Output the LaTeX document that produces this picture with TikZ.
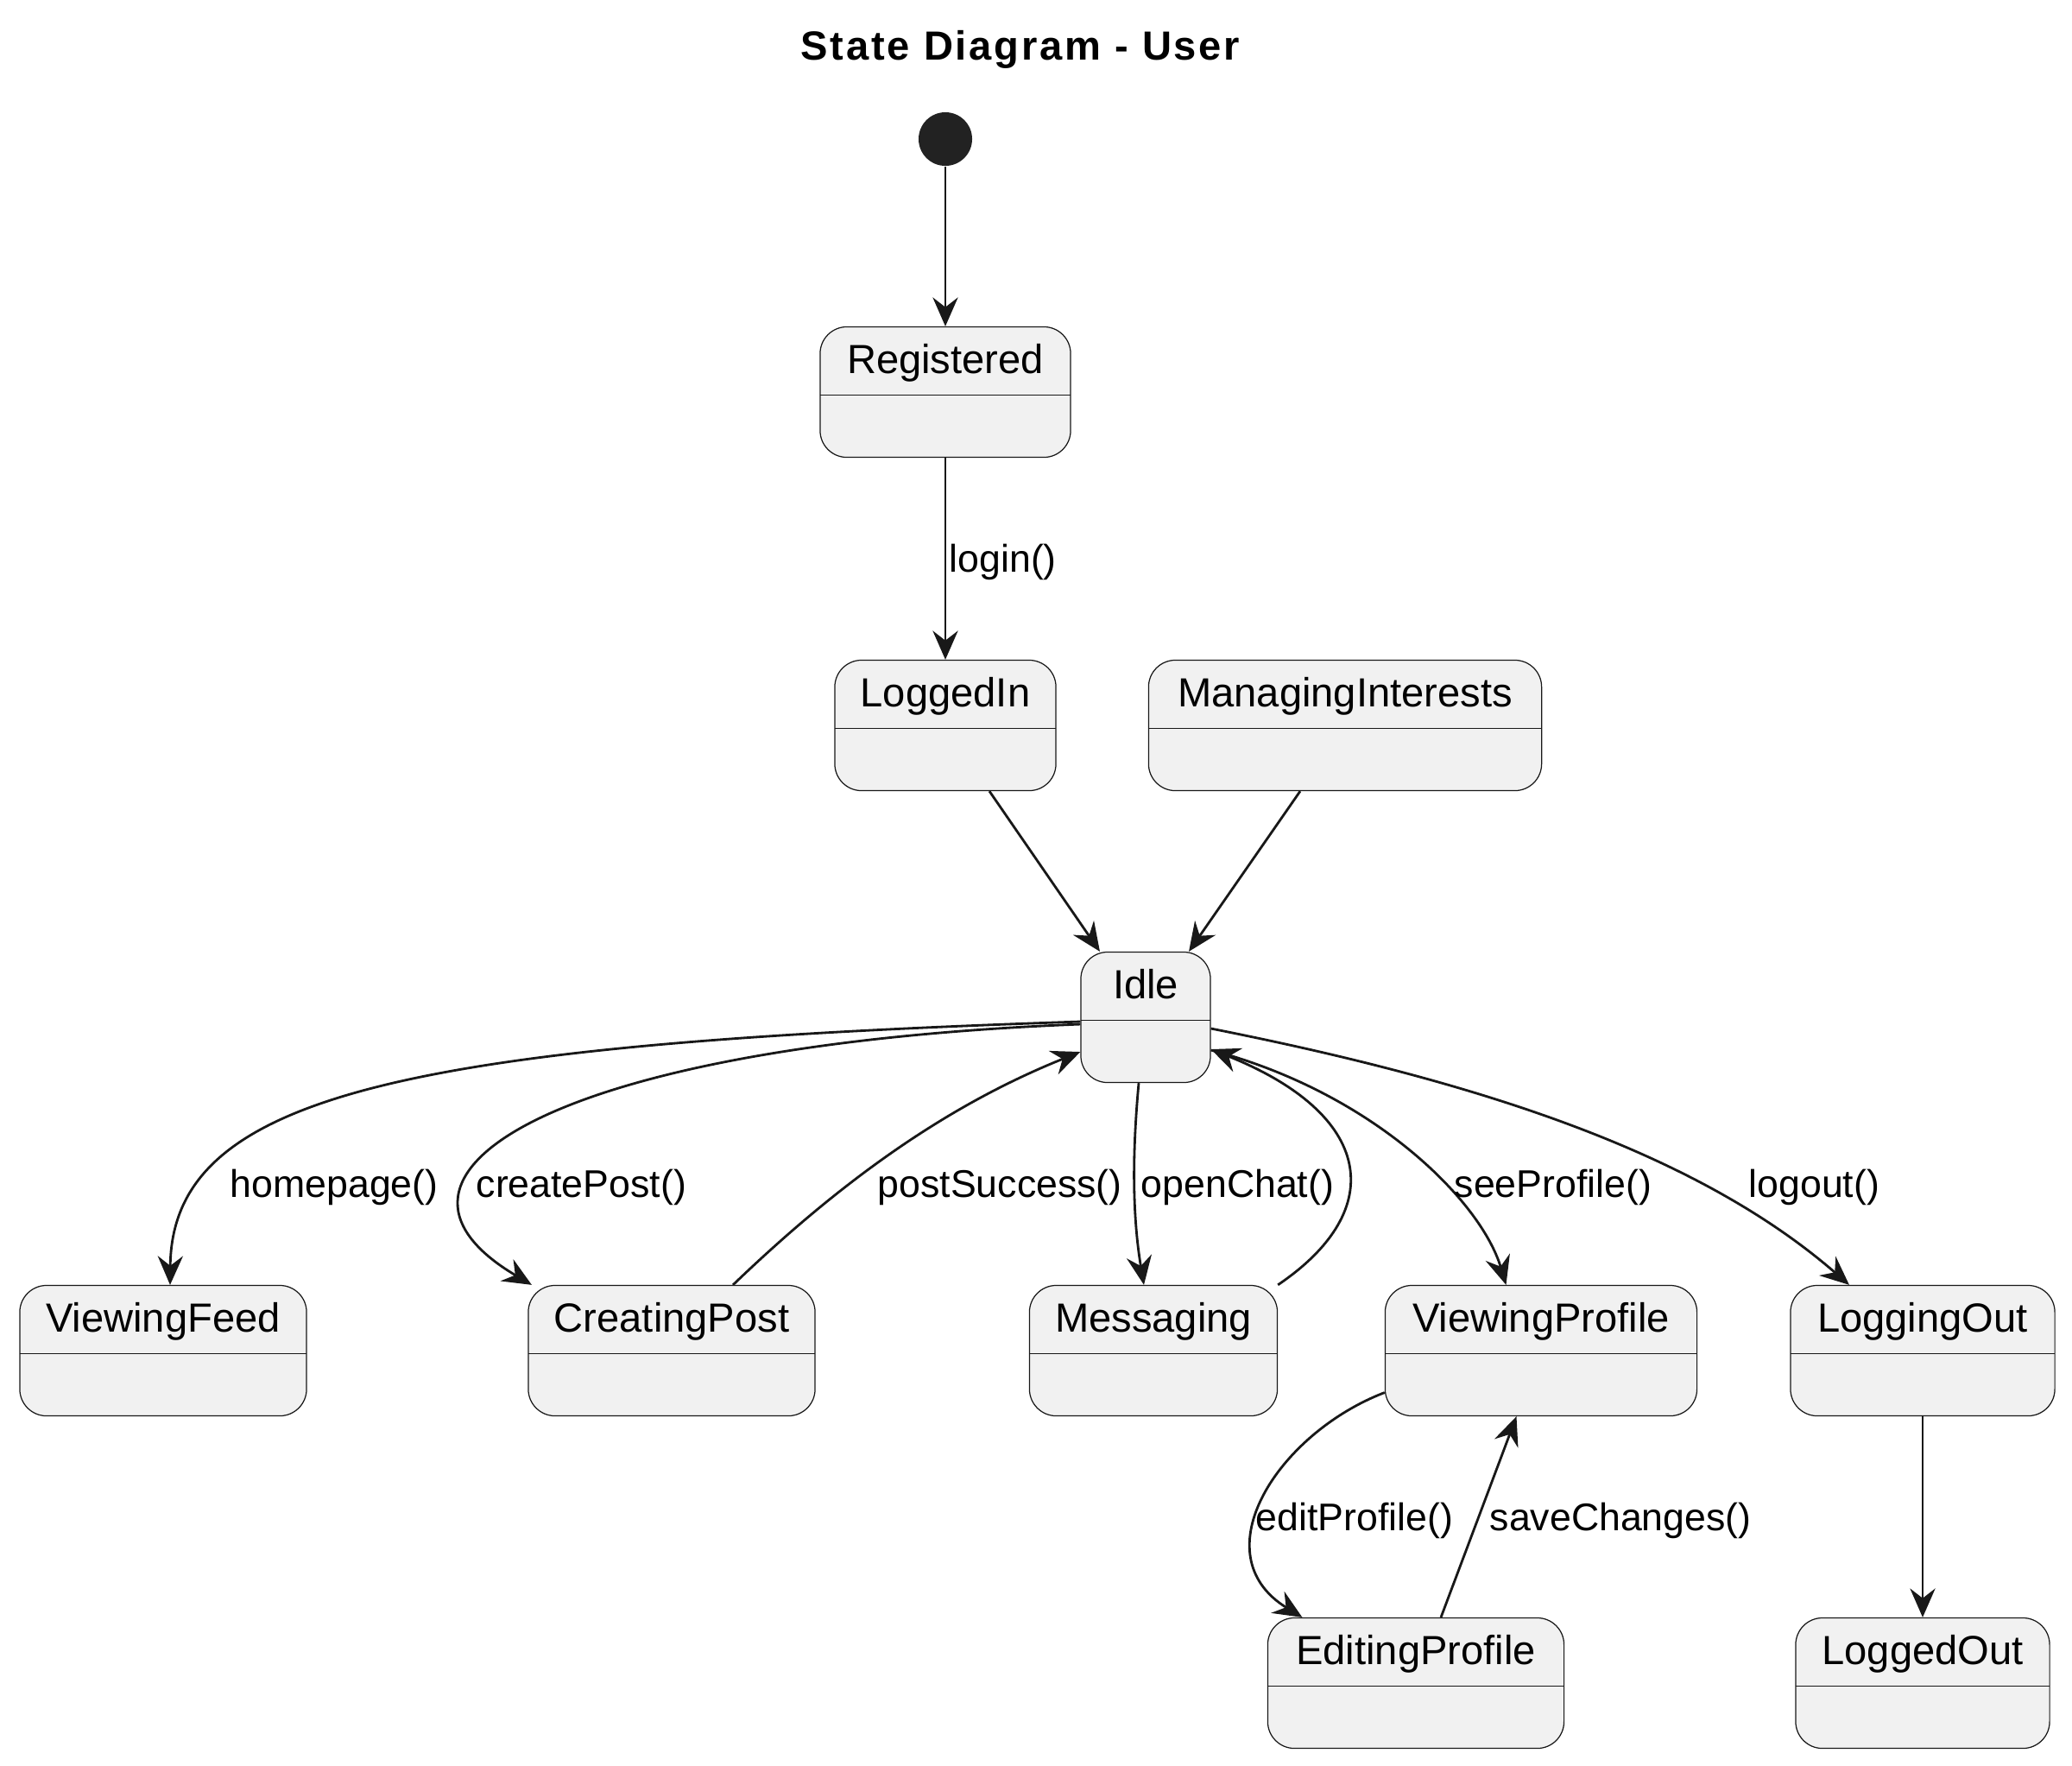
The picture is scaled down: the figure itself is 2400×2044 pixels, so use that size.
\documentclass[tikz,border=0pt]{standalone}
\usepackage{fontspec}
\setmainfont{Liberation Sans}
\usetikzlibrary{arrows.meta}
\definecolor{statefill}{HTML}{F1F1F1}
\definecolor{stateline}{HTML}{181818}
\definecolor{initfill}{HTML}{222222}

\begin{document}
\begin{tikzpicture}[x=0.01cm, y=-0.01cm,
    state/.style={draw=stateline, fill=statefill, line width=0.35pt, rounded corners=0.31cm,
      inner xsep=0pt, inner ysep=0pt, text height=0.54cm, text depth=0.97cm,
      font=\fontsize{13.4pt}{16pt}\selectfont,
      path picture={\draw[stateline, line width=0.35pt]
        ([yshift=-0.79cm]path picture bounding box.north west) --
        ([yshift=-0.79cm]path picture bounding box.north east);}},
    initstate/.style={circle, fill=initfill, minimum size=0.62cm, inner sep=0pt},
    tr/.style={draw=stateline, line width=0.8pt, -{Stealth[length=9.5pt, width=8.3pt, inset=3.2pt]}},
    lbl/.style={inner sep=0pt, anchor=west, font=\fontsize{12.7pt}{15pt}\selectfont}]
  \useasboundingbox (0,0) rectangle (2400,2044);

  \node[font=\fontsize{13.4pt}{16pt}\selectfont\bfseries\addfontfeature{LetterSpace=6}] (title) at (1182,57) {State Diagram - User};

  \node[initstate] (init) at (1095,161) {};
  \node[state, minimum width=2.90cm] (reg) at (1095,454) {Registered};
  \node[state, minimum width=2.56cm] (li) at (1095,840) {LoggedIn};
  \node[state, minimum width=4.55cm] (mi) at (1558,840) {ManagingInterests};
  \node[state, minimum width=1.50cm] (idle) at (1327,1178) {Idle};
  \node[state, minimum width=3.32cm] (vf) at (189,1564) {ViewingFeed};
  \node[state, minimum width=3.32cm] (cp) at (778,1564) {CreatingPost};
  \node[state, minimum width=2.87cm] (msg) at (1336,1564) {Messaging};
  \node[state, minimum width=3.61cm] (vp) at (1785,1564) {ViewingProfile};
  \node[state, minimum width=3.06cm] (lo) at (2227,1564) {LoggingOut};
  \node[state, minimum width=3.43cm] (ep) at (1640,1949) {EditingProfile};
  \node[state, minimum width=2.94cm] (lout) at (2227,1949) {LoggedOut};

  \draw[tr] (init) -- (reg);
  \draw[tr] (reg) -- (li);
  \draw[tr] ([xshift=0.51cm]li.south) -- ([xshift=-0.53cm]idle.north);
  \draw[tr] ([xshift=-0.52cm]mi.south) -- ([xshift=0.50cm]idle.north);
  \draw[tr] ([yshift=-0.05cm]idle.west) .. controls (459,1209) and (199,1270) .. ([xshift=0.08cm]vf.north);
  \draw[tr] ([yshift=-0.08cm]idle.west) .. controls (640,1210) and (400,1360) .. ([xshift=-1.62cm]cp.north);
  \draw[tr] ([xshift=0.71cm]cp.north) .. controls (980,1362) and (1102,1278) .. ([yshift=-0.40cm]idle.west);
  \draw[tr] ([xshift=-0.08cm]idle.south) .. controls (1311,1340) and (1312,1410) .. ([xshift=-0.11cm]msg.north);
  \draw[tr] (msg.north east) .. controls (1610,1400) and (1590,1290) .. ([yshift=-0.37cm]idle.east);
  \draw[tr] ([yshift=-0.38cm]idle.east) .. controls (1590,1265) and (1715,1390) .. ([xshift=-0.405cm]vp.north);
  \draw[tr] ([yshift=-0.13cm]idle.east) .. controls (1700,1250) and (1960,1330) .. ([xshift=-0.85cm]lo.north);
  \draw[tr] ([yshift=-0.485cm]vp.west) .. controls (1480,1660) and (1390,1800) .. ([xshift=-1.315cm]ep.north);
  \draw[tr] ([xshift=0.29cm]ep.north) -- ([xshift=-0.285cm]vp.south);
  \draw[tr] (lo) -- (lout);

  \node[lbl] (lLogin) at (1099,651) {login()};
  \node[lbl] (lHome) at (266,1375) {homepage()};
  \node[lbl] (lCreate) at (551,1375) {createPost()};
  \node[lbl] (lSuccess) at (1016,1375) {postSuccess()};
  \node[lbl] (lChat) at (1321,1375) {openChat()};
  \node[lbl] (lSee) at (1684,1375) {seeProfile()};
  \node[lbl] (lLogout) at (2025,1375) {logout()};
  \node[lbl] (lEdit) at (1454,1761) {editProfile()};
  \node[lbl] (lSave) at (1725,1761) {saveChanges()};
\end{tikzpicture}
\end{document}
